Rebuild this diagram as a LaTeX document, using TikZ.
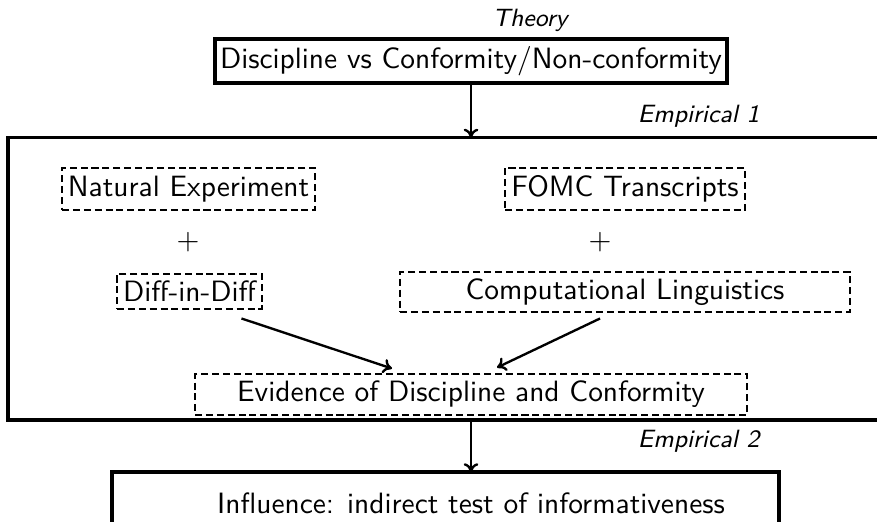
\documentclass[tikz,border=0pt]{standalone}
\usetikzlibrary{arrows.meta,calc}
\def\pxu{0.34pt}
\begin{document}
\begin{tikzpicture}[x=0.34pt,y=-0.34pt,
  font=\sffamily\fontsize{10}{12}\selectfont,
  solidbox/.style={draw,line width=1.2pt,inner sep=0pt,align=center},
  dashbox/.style={draw,line width=1pt,dash pattern=on 2.4pt off 1.3pt,inner sep=0pt,align=center},
  lab/.style={font=\sffamily\itshape\fontsize{8.5}{10}\selectfont,inner sep=0pt},
  arr/.style={-{To[length=3pt,width=5pt]},line width=0.8pt}]
\useasboundingbox (0,0) rectangle (877,521);
\clip (0,0) rectangle (877,521);

\node[solidbox,minimum width=512*\pxu,minimum height=44*\pxu] (top) at (471,61) {Discipline vs Conformity/Non-conformity};
\node[lab] (theory) at (530,20) {Theory};

\draw[line width=1.2pt] (8,137.5) rectangle (905,420);
\coordinate (bbtop) at (471,137.5);
\coordinate (bbbot) at (471,420);
\node[lab,anchor=east] (emp1) at (760,116) {Empirical 1};

\node[dashbox,minimum width=253*\pxu,minimum height=42*\pxu] (nat) at (188.5,189) {Natural Experiment};
\node[dashbox,minimum width=240*\pxu,minimum height=42*\pxu] (fomc) at (625,189) {FOMC Transcripts};
\node (plusa) at (188,242) {$+$};
\node (plusb) at (600,242) {$+$};
\node[dashbox,minimum width=145*\pxu,minimum height=35*\pxu] (diff) at (189.5,291.5) {Diff-in-Diff};
\node[dashbox,minimum width=450*\pxu,minimum height=40*\pxu] (cl) at (625,292) {Computational Linguistics};
\node[dashbox,minimum width=552*\pxu,minimum height=41*\pxu] (evid) at (471,394.5) {Evidence of Discipline and Conformity};

\draw[arr] ($(diff.south east)+(-22,8)$) -- ($(evid.north)+(-79,-4)$);
\draw[arr] ($(cl.south)+(-25,5)$) -- ($(evid.north)+(26,-5)$);

\draw[arr] (top.south) -- (bbtop);

\node[lab,anchor=east] (emp2) at (760,441) {Empirical 2};
\draw[line width=1.2pt] (112,472) rectangle (779,545);
\node (infl) at (471,503) {Influence: indirect test of informativeness};
\coordinate (inflbox) at (471,472);
\draw[arr] (bbbot) -- (inflbox);
\end{tikzpicture}
\end{document}
